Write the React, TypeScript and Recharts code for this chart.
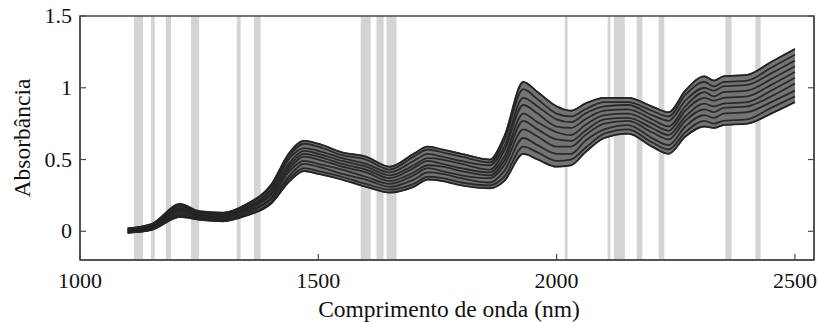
import React from "react"
import { ComposedChart, Line, Area, XAxis, YAxis, ReferenceArea } from "recharts"

const wavelengths = [
  1100, 1150, 1210, 1250, 1300, 1350, 1400, 1440, 1470, 1500, 1550, 1600, 1650, 1700, 1730, 1760, 1800, 1860,
  1890, 1930, 1960, 2000, 2030, 2060, 2100, 2150, 2200, 2235, 2270, 2310, 2330, 2350, 2400, 2450, 2500,
]

const spectrum1 = [-0.01, 0.01, 0.1, 0.08, 0.07, 0.11, 0.19, 0.35, 0.42, 0.4, 0.36, 0.31, 0.27, 0.31, 0.36, 0.35, 0.32, 0.3, 0.35, 0.54, 0.5, 0.45, 0.46, 0.55, 0.65, 0.68, 0.59, 0.54, 0.66, 0.73, 0.72, 0.74, 0.75, 0.82, 0.9]
const spectrum2 = [-0.01, 0.01, 0.11, 0.09, 0.08, 0.12, 0.2, 0.37, 0.44, 0.42, 0.38, 0.33, 0.29, 0.33, 0.38, 0.37, 0.34, 0.32, 0.38, 0.59, 0.55, 0.49, 0.5, 0.58, 0.68, 0.71, 0.62, 0.57, 0.69, 0.77, 0.75, 0.77, 0.78, 0.86, 0.94]
const spectrum3 = [0.0, 0.02, 0.12, 0.09, 0.08, 0.13, 0.22, 0.39, 0.47, 0.45, 0.4, 0.36, 0.31, 0.36, 0.41, 0.4, 0.37, 0.34, 0.42, 0.65, 0.6, 0.54, 0.54, 0.63, 0.71, 0.74, 0.65, 0.6, 0.73, 0.81, 0.79, 0.82, 0.83, 0.9, 0.98]
const spectrum4 = [0.0, 0.02, 0.13, 0.1, 0.09, 0.14, 0.23, 0.42, 0.49, 0.47, 0.43, 0.38, 0.33, 0.39, 0.44, 0.42, 0.39, 0.37, 0.46, 0.71, 0.66, 0.59, 0.59, 0.67, 0.75, 0.77, 0.69, 0.64, 0.77, 0.85, 0.83, 0.86, 0.87, 0.94, 1.03]
const spectrum5 = [0.0, 0.03, 0.14, 0.11, 0.1, 0.15, 0.25, 0.44, 0.52, 0.5, 0.45, 0.41, 0.35, 0.41, 0.46, 0.45, 0.42, 0.39, 0.49, 0.77, 0.71, 0.64, 0.63, 0.7, 0.78, 0.79, 0.72, 0.67, 0.8, 0.89, 0.87, 0.89, 0.9, 0.98, 1.07]
const spectrum6 = [0.01, 0.03, 0.15, 0.11, 0.1, 0.16, 0.26, 0.46, 0.54, 0.52, 0.47, 0.43, 0.37, 0.44, 0.49, 0.47, 0.44, 0.41, 0.52, 0.82, 0.76, 0.69, 0.67, 0.74, 0.81, 0.82, 0.75, 0.7, 0.84, 0.93, 0.91, 0.93, 0.94, 1.02, 1.11]
const spectrum7 = [0.01, 0.04, 0.16, 0.12, 0.11, 0.16, 0.28, 0.48, 0.56, 0.54, 0.49, 0.45, 0.39, 0.46, 0.51, 0.5, 0.47, 0.43, 0.56, 0.88, 0.82, 0.73, 0.72, 0.78, 0.84, 0.85, 0.78, 0.73, 0.87, 0.97, 0.94, 0.97, 0.98, 1.06, 1.15]
const spectrum8 = [0.01, 0.04, 0.17, 0.13, 0.12, 0.17, 0.29, 0.51, 0.58, 0.56, 0.51, 0.47, 0.41, 0.49, 0.54, 0.52, 0.49, 0.46, 0.59, 0.93, 0.87, 0.78, 0.76, 0.82, 0.87, 0.88, 0.81, 0.77, 0.91, 1.0, 0.98, 1.01, 1.02, 1.1, 1.19]
const spectrum9 = [0.02, 0.05, 0.18, 0.13, 0.12, 0.18, 0.31, 0.53, 0.61, 0.59, 0.53, 0.5, 0.43, 0.52, 0.57, 0.55, 0.52, 0.48, 0.63, 0.99, 0.92, 0.82, 0.8, 0.85, 0.9, 0.9, 0.84, 0.8, 0.95, 1.04, 1.01, 1.04, 1.05, 1.14, 1.23]
const spectrum10 = [0.02, 0.05, 0.19, 0.14, 0.13, 0.19, 0.32, 0.55, 0.63, 0.61, 0.55, 0.52, 0.45, 0.54, 0.59, 0.57, 0.54, 0.5, 0.66, 1.04, 0.97, 0.87, 0.84, 0.89, 0.93, 0.93, 0.87, 0.83, 0.98, 1.08, 1.05, 1.08, 1.09, 1.18, 1.27]

const spectra = [spectrum1, spectrum2, spectrum3, spectrum4, spectrum5, spectrum6, spectrum7, spectrum8, spectrum9, spectrum10]

// selected wavelength intervals (gray bands)
const bandStart = [1113, 1149, 1180, 1233, 1329, 1365, 1589, 1622, 1643, 2017, 2107, 2120, 2168, 2214, 2354, 2417]
const bandEnd = [1132, 1157, 1191, 1250, 1337, 1379, 1610, 1637, 1664, 2023, 2113, 2143, 2180, 2226, 2367, 2428]

const xTicks = [1000, 1500, 2000, 2500]
const yTicks = [0, 0.5, 1, 1.5]

const data = wavelengths.map((wl, i) => {
  const row: Record<string, any> = { wl }
  spectra.forEach((s, k) => (row["s" + k] = s[i]))
  row.range = [spectrum1[i], spectrum10[i]]
  return row
})

const font = "'Liberation Serif', 'Times New Roman', serif"
const axisColor = "#4a4a4a"
const txt = { fontFamily: font, fill: "#111" }

const BottomTick = ({ x, y, payload }: any) => (
  <g>
    <line x1={x} x2={x} y1={y} y2={y - 6} stroke={axisColor} strokeWidth={1.2} />
    <text x={x} y={y + 28} textAnchor="middle" fontSize={22} style={txt}>
      {payload.value}
    </text>
  </g>
)

const TopTick = ({ x, y }: any) => <line x1={x} x2={x} y1={y} y2={y + 6} stroke={axisColor} strokeWidth={1.2} />

const LeftTick = ({ x, y, payload }: any) => (
  <g>
    <line x1={x} x2={x + 6} y1={y} y2={y} stroke={axisColor} strokeWidth={1.2} />
    <text x={x - 8} y={y + 7} textAnchor="end" fontSize={22} style={txt}>
      {payload.value}
    </text>
  </g>
)

const RightTick = ({ x, y }: any) => <line x1={x} x2={x - 6} y1={y} y2={y} stroke={axisColor} strokeWidth={1.2} />

const XLabel = ({ viewBox }: any) => (
  <text x={viewBox.x + viewBox.width / 2 + 2} y={viewBox.y + 57} textAnchor="middle" fontSize={23.5} style={txt}>
    Comprimento de onda (nm)
  </text>
)

const YLabel = ({ viewBox }: any) => {
  const cx = 30
  const cy = viewBox.y + viewBox.height / 2
  return (
    <text x={cx} y={cy} transform={`rotate(-90, ${cx}, ${cy})`} textAnchor="middle" fontSize={23.5} style={txt}>
      Absorbância
    </text>
  )
}

export default function App() {
  return (
    <div style={{ width: 819, height: 322 }}>
      <style>{"body{margin:0}"}</style>
      <ComposedChart width={819} height={322} data={data} margin={{ top: 16, right: 4, bottom: 0, left: 0 }}>
        <XAxis
          dataKey="wl"
          type="number"
          domain={[1000, 2540]}
          ticks={xTicks}
          allowDataOverflow
          height={62}
          tickSize={0}
          tickMargin={0}
          tick={<BottomTick />}
          axisLine={{ stroke: axisColor, strokeWidth: 1.5 }}
          label={<XLabel />}
        />
        <XAxis
          xAxisId="top"
          orientation="top"
          type="number"
          domain={[1000, 2540]}
          ticks={xTicks}
          allowDataOverflow
          height={0}
          tickSize={0}
          tickMargin={0}
          tick={<TopTick />}
          axisLine={{ stroke: axisColor, strokeWidth: 1.5 }}
        />
        <YAxis
          type="number"
          domain={[-0.2, 1.5]}
          ticks={yTicks}
          allowDataOverflow
          width={80}
          tickSize={0}
          tickMargin={0}
          tick={<LeftTick />}
          axisLine={{ stroke: axisColor, strokeWidth: 1.5 }}
          label={<YLabel />}
        />
        <YAxis
          yAxisId="right"
          orientation="right"
          type="number"
          domain={[-0.2, 1.5]}
          ticks={yTicks}
          allowDataOverflow
          width={1}
          tickSize={0}
          tickMargin={0}
          tick={<RightTick />}
          axisLine={{ stroke: axisColor, strokeWidth: 1.5 }}
        />
        {bandStart.map((s, i) => (
          <ReferenceArea key={"band" + i} x1={s} x2={bandEnd[i]} fill="#d4d4d4" fillOpacity={1} stroke="none" />
        ))}
        <ReferenceArea
          x1={1000}
          x2={2540}
          y1={-0.2}
          y2={1.5}
          fill="none"
          fillOpacity={0}
          stroke={axisColor}
          strokeWidth={1.5}
        />
        <Area
          dataKey="range"
          type="monotone"
          fill="#747474"
          fillOpacity={1}
          stroke="#333"
          strokeWidth={1.5}
          isAnimationActive={false}
        />
        {spectra.map((_, k) => (
          <Line
            key={"s" + k}
            dataKey={"s" + k}
            type="monotone"
            stroke="#222"
            strokeOpacity={0.9}
            strokeWidth={1.8}
            dot={false}
            isAnimationActive={false}
          />
        ))}
      </ComposedChart>
    </div>
  )
}
